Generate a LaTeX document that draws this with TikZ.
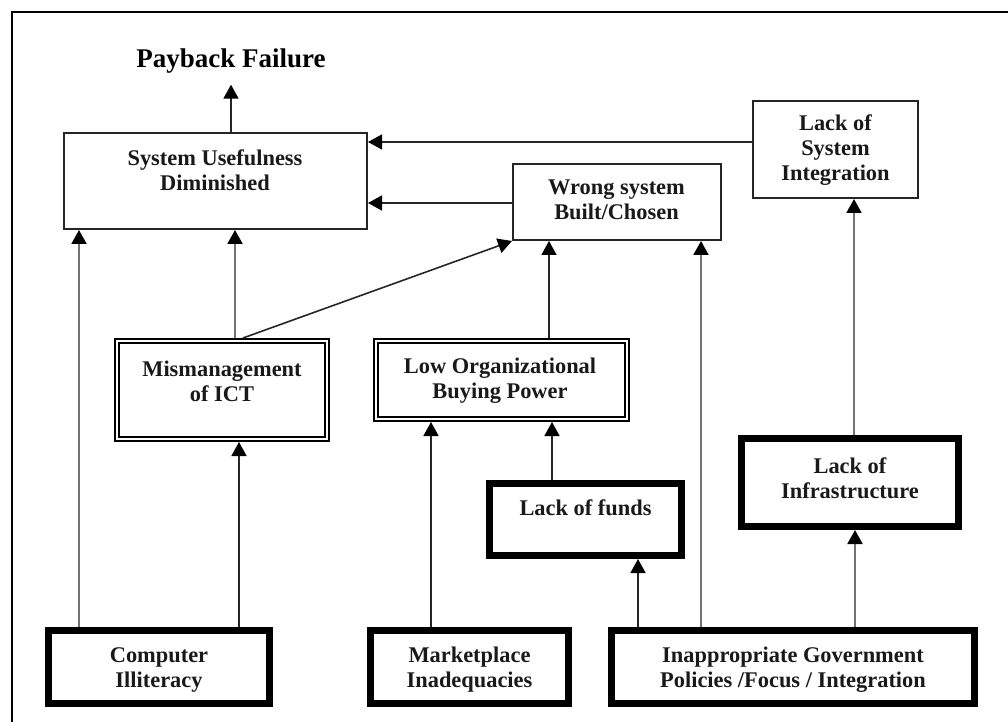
\documentclass[tikz,border=0pt]{standalone}
\usepackage{fontspec}
\setmainfont{Liberation Serif}
\usetikzlibrary{arrows.meta}
\begin{document}
\begin{tikzpicture}[x=0.5pt,y=-0.5pt,
  box/.style={draw=black!85, line width=1pt, inner sep=0pt},
  dbox/.style={draw=black, line width=1.2pt, inner sep=0pt},
  tbox/.style={draw=black, line width=3.5pt, inner sep=0pt},
  inner/.style={draw=black, line width=0.7pt},
  txt/.style={font=\bfseries\fontsize{11.2}{12.5}\selectfont, align=center, inner sep=0pt, text=black!90},
  tip/.style={-{Triangle[length=7pt,width=7.5pt,color=black]}},
  garr/.style={draw=black!55, line width=1pt, tip},
  darr/.style={draw=black!85, line width=0.8pt, tip}
]
\useasboundingbox (0,0) rectangle (1008,722);
\draw[line width=1pt] (1008,12) -- (12,12) -- (12,722);

% title
\node[font=\bfseries\fontsize{13.5}{15}\selectfont, inner xsep=0pt, inner ysep=5.5pt] (pb) at (231,61) {Payback Failure};

% plain boxes
\node[box, minimum width=151.5pt, minimum height=48pt] (sud) at (215.5,181) {};
\node[txt] (sudt) at (215,170) {System Usefulness\\Diminished};
\node[box, minimum width=104pt, minimum height=38pt] (wsb) at (617,202) {};
\node[txt] (wsbt) at (616.5,200) {Wrong system\\Built/Chosen};
\node[box, minimum width=82.5pt, minimum height=48.5pt] (lsi) at (835.5,149.5) {};
\node[txt] (lsit) at (835.5,150) {Lack of\\System\\Integration};

% double boxes
\node[dbox, minimum width=106.8pt, minimum height=50.8pt] (mis) at (222,390) {};
\draw[inner] ([shift={(5,5)}]mis.north west) rectangle ([shift={(-5,-5)}]mis.south east);
\node[txt] (mist) at (222,381) {Mismanagement\\of ICT};
\node[dbox, minimum width=127.3pt, minimum height=40.8pt] (lobp) at (501.5,380) {};
\draw[inner] ([shift={(5,5)}]lobp.north west) rectangle ([shift={(-5,-5)}]lobp.south east);
\node[txt] (lobpt) at (500,381) {Low Organizational\\Buying Power};

% thick boxes
\node[tbox, minimum width=96pt, minimum height=36pt] (lof) at (585.5,519.5) {};
\node[txt] (loft) at (585.5,508) {Lack of funds};
\node[tbox, minimum width=108.5pt, minimum height=44pt] (loi) at (850,482.5) {};
\node[txt] (loit) at (850,478) {Lack of\\Infrastructure};
\node[tbox, minimum width=110.5pt, minimum height=36.5pt] (ci) at (159,667) {};
\node[txt] (cit) at (159,670) {Computer\\Illiteracy};
\node[tbox, minimum width=99pt, minimum height=36.5pt] (mi) at (469.5,667) {};
\node[txt] (mit) at (469.5,670) {Marketplace\\Inadequacies};
\node[tbox, minimum width=181.5pt, minimum height=36.5pt] (igp) at (793,667) {};
\node[txt] (igpt) at (793,670) {Inappropriate Government\\Policies /Focus / Integration};

% connectors
\draw[darr] (pb.south |- sud.north) -- (pb.south);
\draw[garr] (79,0 |- ci.north) -- (79,0 |- sud.south);
\draw[darr] (239,0 |- ci.north) -- (239,0 |- mis.south);
\draw[garr] (235,0 |- mis.north) -- (235,0 |- sud.south);
\draw[darr] (243,0 |- mis.north) -- (wsb.south west);
\draw[darr] (431,0 |- mi.north) -- (431,0 |- lobp.south);
\draw[darr] (552,0 |- lof.north) -- (552,0 |- lobp.south);
\draw[darr] (549,0 |- lobp.north) -- (549,0 |- wsb.south);
\draw[darr] (638,0 |- igp.north) -- (638,0 |- lof.south);
\draw[garr] (701,0 |- igp.north) -- (701,0 |- wsb.south);
\draw[garr] (855,0 |- igp.north) -- (855,0 |- loi.south);
\draw[garr] (854,0 |- loi.north) -- (854,0 |- lsi.south);
\draw[darr] (lsi.west |- 0,142) -- (sud.east |- 0,142);
\draw[darr] (wsb.west |- 0,203) -- (sud.east |- 0,203);
\end{tikzpicture}
\end{document}
